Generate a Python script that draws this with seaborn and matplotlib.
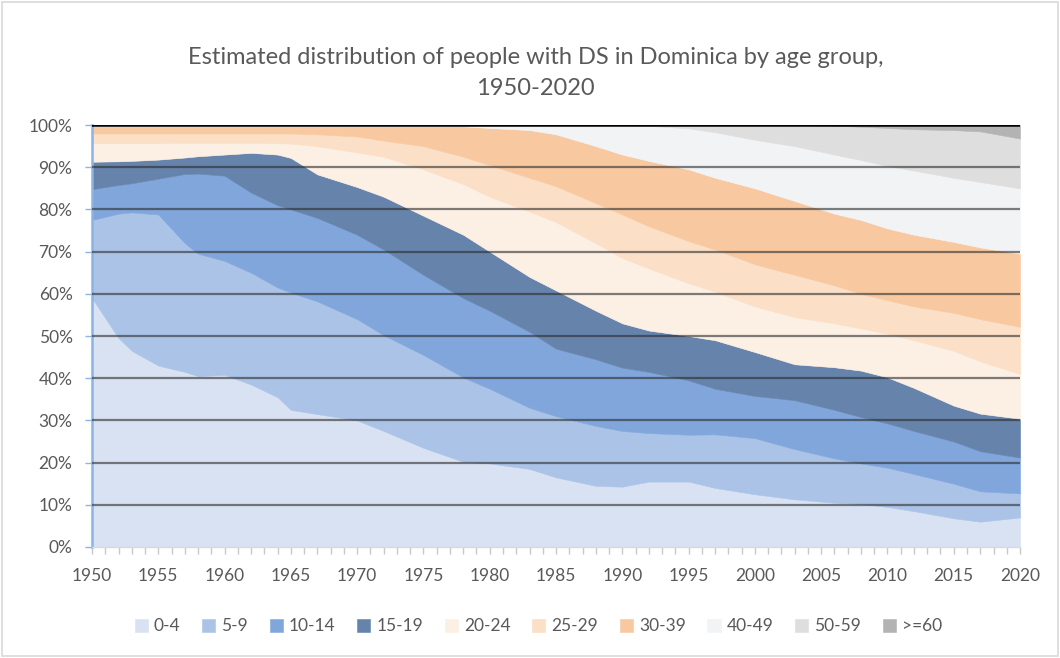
import numpy as np
import matplotlib
matplotlib.use("Agg")
import matplotlib.pyplot as plt
import seaborn as sns
from matplotlib.patches import Rectangle
from matplotlib.ticker import MultipleLocator, PercentFormatter

years = [1950, 1952, 1953, 1955, 1957, 1958, 1960, 1962, 1964, 1965, 1967, 1970,
         1972, 1975, 1978, 1980, 1983, 1985, 1988, 1990, 1992, 1995, 1997, 2000,
         2003, 2006, 2008, 2010, 2012, 2015, 2017, 2020]

groups = ["0-4", "5-9", "10-14", "15-19", "20-24", "25-29", "30-39", "40-49", "50-59", ">=60"]

# share of each age group (%)
age_0_4 = [59, 49.5, 46.5, 43, 41.5, 40.5, 40.8, 38.5, 35.5, 32.5, 31.5, 30,
           27.5, 23.5, 20.2, 19.8, 18.5, 16.5, 14.5, 14.3, 15.5, 15.5, 14, 12.5,
           11.3, 10.5, 10.2, 9.5, 8.5, 6.8, 6, 7]
age_5_9 = [18.5, 29.5, 32.8, 35.8, 30.5, 29, 27, 26.5, 26, 27.8, 26.7, 24,
           22.7, 22, 20, 17.7, 14.5, 14.5, 14.2, 13.2, 11.5, 11.1, 12.7, 13.3,
           11.9, 10.5, 9.6, 9.3, 8.8, 8.2, 7.2, 5.7]
age_10_14 = [7.3, 6.8, 6.9, 8.5, 16.4, 19, 20.2, 19, 19.5, 19.7, 19.8, 20,
             20.3, 19, 18.8, 18.5, 18, 16, 15.8, 15, 14.5, 12.9, 10.8, 10,
             11.6, 11.5, 11, 10.5, 10.2, 10, 9.5, 8.5]
age_15_19 = [6.5, 5.6, 5.3, 4.5, 3.9, 4.1, 5, 9.4, 12, 12.2, 10.3, 11.3,
             12.5, 14, 15, 14, 13, 13.8, 11.5, 10.5, 9.8, 10.5, 11.5, 10.4,
             8.5, 10.1, 11, 10.9, 10.2, 8.5, 8.9, 9.2]
age_20_24 = [4.4, 4.3, 4.2, 3.9, 3.5, 3.2, 2.8, 2.4, 2.7, 3.4, 6.7, 8.2,
             9.5, 11, 12, 13, 15.5, 16.2, 16, 15.5, 14.7, 12.5, 11.5, 10.8,
             11.2, 10.4, 10, 10.3, 11.3, 13, 12.4, 10.6]
age_25_29 = [2.3, 2.3, 2.3, 2.3, 2.2, 2.2, 2.2, 2.2, 2.3, 2.4, 2.8, 3.8,
             3.8, 5.5, 6.5, 7.5, 8, 8.5, 9.5, 10.3, 10, 10, 10, 10,
             10, 9, 8.2, 8, 8, 9, 10, 11.2]
age_30_39 = [1.7, 1.7, 1.7, 1.7, 1.7, 1.7, 1.7, 1.7, 1.7, 1.7, 1.9, 2.4,
             3.4, 4.7, 7.2, 8.8, 11.3, 12.3, 13.5, 14.2, 15.5, 17, 17, 18,
             17.5, 17, 17.5, 17, 17, 16.8, 17, 17.3]
age_40_49 = [0.2, 0.2, 0.2, 0.2, 0.2, 0.2, 0.2, 0.2, 0.2, 0.2, 0.2, 0.2,
             0.2, 0.2, 0.2, 0.6, 1.1, 2.1, 4.9, 6.9, 8.3, 9.7, 10.8, 11.5,
             13, 14, 14.2, 14.8, 15.2, 15.2, 15.5, 15.5]
age_50_59 = [0.1, 0.1, 0.1, 0.1, 0.1, 0.1, 0.1, 0.1, 0.1, 0.1, 0.1, 0.1,
             0.1, 0.1, 0.1, 0.1, 0.1, 0.1, 0.1, 0.1, 0.2, 0.8, 1.7, 3.5,
             5, 6.8, 7.9, 9, 9.8, 11.3, 12, 11.8]
age_60_plus = [0, 0, 0, 0, 0, 0, 0, 0, 0, 0, 0, 0,
               0, 0, 0, 0, 0, 0, 0, 0, 0, 0, 0, 0,
               0, 0.2, 0.4, 0.7, 1, 1.2, 1.5, 3.2]

colors = ["#d8e2f2", "#abc3e7", "#80a6db", "#6583ab",
          "#fcefe4", "#fbdfc6", "#f8c9a0",
          "#f2f3f5", "#dedede", "#b3b3b3"]

sns.set_theme(style="white")
plt.rcParams["font.family"] = ["Lato", "DejaVu Sans"]

shares = np.array([age_0_4, age_5_9, age_10_14, age_15_19, age_20_24,
                   age_25_29, age_30_39, age_40_49, age_50_59, age_60_plus], dtype=float)
shares = shares / shares.sum(axis=0) * 100

fig = plt.figure(figsize=(10.6, 6.58), dpi=100)
ax = fig.add_axes([0.0868, 0.1687, 0.8755, 0.6413])

ax.stackplot(years, shares, colors=colors, labels=groups,
             edgecolor="face", linewidth=0.4)

# gridlines over the areas, as in the original
for v in range(10, 100, 10):
    ax.axhline(v, color="#2b2b2b", alpha=0.6, lw=1.6, zorder=3)
ax.axhline(100, color="black", lw=1.8, zorder=3)

ax.set_xlim(1950, 2020)
ax.set_ylim(0, 100)
ax.xaxis.set_major_locator(MultipleLocator(5))
ax.xaxis.set_minor_locator(MultipleLocator(1))
ax.yaxis.set_major_locator(MultipleLocator(10))
ax.yaxis.set_major_formatter(PercentFormatter(decimals=0))

for s in ["top", "right"]:
    ax.spines[s].set_visible(False)
ax.spines["left"].set_color("#8db3e2")
ax.spines["left"].set_linewidth(1.8)
ax.spines["bottom"].set_color("#d9d9d9")
ax.spines["bottom"].set_linewidth(1)

ax.tick_params(axis="x", which="major", direction="out", length=5, width=1,
               color="#c8c8c8", labelsize=12.5, labelcolor="#595959", pad=10, bottom=True)
ax.tick_params(axis="x", which="minor", direction="out", length=5, width=1,
               color="#c8c8c8", bottom=True)
ax.tick_params(axis="y", which="major", direction="out", length=5, width=1,
               color="#8db3e2", labelsize=12.5, labelcolor="#595959", pad=9, left=True)

fig.text(0.505, 0.913, "Estimated distribution of people with DS in Dominica by age group,",
         ha="center", va="center", fontsize=17, color="#595959")
fig.text(0.505, 0.866, "1950-2020", ha="center", va="center", fontsize=17, color="#595959")

fig.legend(loc="center", bbox_to_anchor=(0.508, 0.048), ncol=10, frameon=False,
           handlelength=0.75, handleheight=0.75, handletextpad=0.35, columnspacing=1.25,
           fontsize=12.5, labelcolor="#595959")

fig.patches.append(Rectangle((0.002, 0.003), 0.996, 0.994, transform=fig.transFigure,
                             fill=False, edgecolor="#d9d9d9", lw=1.2))

fig.savefig("out.png", dpi=100)
